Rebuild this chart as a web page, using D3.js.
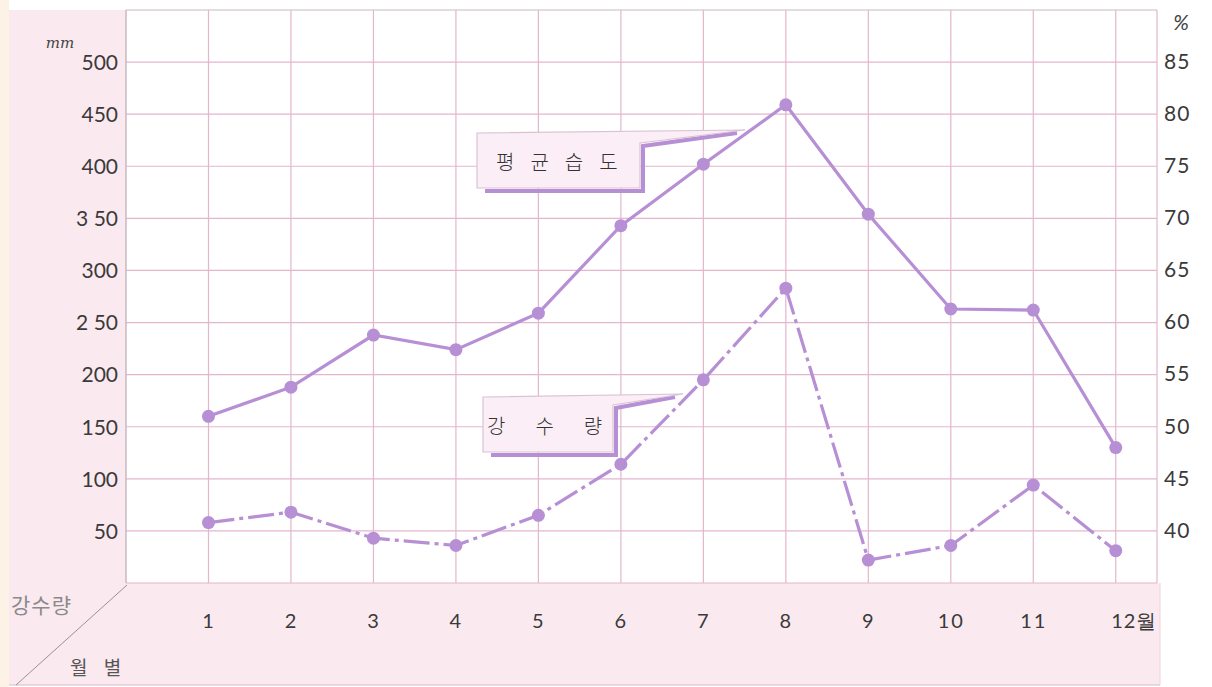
<!DOCTYPE html>
<html><head><meta charset="utf-8">
<script src="https://cdn.jsdelivr.net/npm/d3@7"></script>
<style>
html,body{margin:0;padding:0;background:#fff;}
svg{display:block;}
</style></head>
<body>
<svg id="c" width="1212" height="687"></svg>
<script>
const months = [1,2,3,4,5,6,7,8,9,10,11,12];
const monthLabels = ["1","2","3","4","5","6","7","8","9","10","11","12월"];
const humidity = [51.0,53.8,58.8,57.4,60.9,69.3,75.2,80.9,70.4,61.3,61.2,48.0];   // %
const rainfall = [58,68,43,36,65,114,195,283,22,36,94,31];                          // mm
const leftTicks = [50,100,150,200,250,300,350,400,450,500];
const leftTickLabels = ["50","100","150","200","2 50","300","3 50","400","450","500"];
const rightTicks = [40,45,50,55,60,65,70,75,80,85];
const humidityLabel = "평균습도";
const rainLabel = "강수량";

const svg = d3.select("#c");
const L = 126, R = 1157, T = 10, B = 583, BB = 685;
const x = d3.scaleLinear().domain([0,12.5]).range([L,R]);
const yL = d3.scaleLinear().domain([0,550]).range([B,T]);
const yR = d3.scaleLinear().domain([35,90]).range([B,T]);

const purple = "#b78fd4", grid = "#e3b6cc", pinkBg = "#fbe9f0";

// background panels
svg.append("rect").attr("x",0).attr("y",0).attr("width",9).attr("height",687).attr("fill","#fcf3e6");
svg.append("rect").attr("x",9).attr("y",T).attr("width",L-9).attr("height",B-T).attr("fill",pinkBg);
svg.append("rect").attr("x",9).attr("y",B).attr("width",R+3-9).attr("height",BB-B).attr("fill",pinkBg);
svg.append("rect").attr("x",L).attr("y",T).attr("width",R-L).attr("height",B-T).attr("fill","#ffffff");

// grid
const g = svg.append("g");
g.selectAll("line.h").data(leftTicks.concat([0])).join("line")
  .attr("x1",L).attr("x2",R).attr("y1",d=>yL(d)).attr("y2",d=>yL(d))
  .attr("stroke",grid).attr("stroke-width",1.2);
g.append("line").attr("x1",L).attr("x2",R).attr("y1",T).attr("y2",T).attr("stroke","#ddd0d8").attr("stroke-width",1.5);
g.selectAll("line.v").data(months.concat([12.5])).join("line")
  .attr("y1",T).attr("y2",B).attr("x1",d=>x(d)).attr("x2",d=>x(d))
  .attr("stroke",grid).attr("stroke-width",1.2);
g.append("line").attr("x1",L).attr("x2",L).attr("y1",T).attr("y2",B).attr("stroke","#c9b8c2").attr("stroke-width",1.5);
// bottom band borders
svg.append("line").attr("x1",9).attr("x2",R+3).attr("y1",BB).attr("y2",BB).attr("stroke","#e6cbd7").attr("stroke-width",1.5);
svg.append("line").attr("x1",R+3).attr("x2",R+3).attr("y1",B).attr("y2",BB).attr("stroke","#ecd3de").attr("stroke-width",1);
svg.append("line").attr("x1",L+1).attr("y1",B+2).attr("x2",16).attr("y2",BB).attr("stroke","#9a8f95").attr("stroke-width",1);

const font = "Lato, 'Noto Sans', sans-serif";
// left axis labels
const la = svg.append("g").attr("transform",`translate(${L-8},0)`)
  .call(d3.axisLeft(yL).tickValues(leftTicks).tickSize(0).tickPadding(0).tickFormat((d,i)=>leftTickLabels[i]));
la.select(".domain").remove();
la.selectAll("text").attr("font-size",21).attr("font-family",font).attr("fill","#3a3a3a").attr("dy","0.35em");
svg.append("text").attr("x",60).attr("y",48).attr("text-anchor","middle").attr("font-size",15)
  .attr("font-style","italic").attr("font-family","'DejaVu Serif', serif").attr("fill","#444").text("mm");

// right axis labels
const ra = svg.append("g").attr("transform",`translate(${R+7},0)`)
  .call(d3.axisRight(yR).tickValues(rightTicks).tickSize(0).tickPadding(0).tickFormat(d3.format("d")));
ra.select(".domain").remove();
ra.selectAll("text").attr("font-size",21).attr("font-family",font).attr("fill","#3a3a3a").attr("dy","0.3em").attr("letter-spacing","1px");
svg.append("text").attr("x",1181).attr("y",30).attr("text-anchor","middle").attr("font-size",21)
  .attr("font-style","italic").attr("font-family",font).attr("fill","#444").text("%");

// month labels
const ma = svg.append("g").attr("transform",`translate(0,${621})`)
  .call(d3.axisBottom(x).tickValues(months).tickSize(0).tickPadding(0).tickFormat((d,i)=>monthLabels[i]));
ma.select(".domain").remove();
ma.selectAll("text").attr("font-size",20).attr("font-family",font).attr("fill","#3a3a3a").attr("dy","0.35em").attr("y",0)
  .attr("letter-spacing","2px");
ma.selectAll("text").filter((d,i)=>i===11).attr("text-anchor","start").attr("dx","-5").attr("letter-spacing","1px");

svg.append("text").attr("x",11).attr("y",613).attr("font-size",21).attr("font-family","'Noto Sans CJK KR', sans-serif")
  .attr("fill","#8a8a8a").attr("letter-spacing","1px").text("강수량");
svg.append("text").attr("x",70).attr("y",675).attr("font-size",19).attr("font-family","'Noto Sans CJK KR', sans-serif")
  .attr("fill","#555").attr("letter-spacing","6px").text("월 별");

// lines
const hum = months.map((m,i)=>[m,humidity[i]]);
const rain = months.map((m,i)=>[m,rainfall[i]]);
const lh = d3.line().x(d=>x(d[0])).y(d=>yR(d[1]));
const lr = d3.line().x(d=>x(d[0])).y(d=>yL(d[1]));
svg.append("path").attr("d",lh(hum)).attr("fill","none").attr("stroke",purple).attr("stroke-width",3.2);
svg.append("path").attr("d",lr(rain)).attr("fill","none").attr("stroke",purple).attr("stroke-width",3.2)
  .attr("stroke-dasharray","26,5,4,5");
svg.selectAll("circle.h").data(hum).join("circle").attr("cx",d=>x(d[0])).attr("cy",d=>yR(d[1])).attr("r",6.5).attr("fill",purple);
svg.selectAll("circle.r").data(rain).join("circle").attr("cx",d=>x(d[0])).attr("cy",d=>yL(d[1])).attr("r",6.5).attr("fill",purple);

// callouts
function callout(x0,y0,xr,y1,tipx,tipy,neck,label,tx,ls){
  const sh = svg.append("g");
  sh.append("path").attr("d",`M${x0+8},${y1+3} L${xr+3},${y1+3} L${xr+3},${neck+3} L${tipx-8},${tipy+3}`)
    .attr("fill","none").attr("stroke",purple).attr("stroke-width",4);
  sh.append("path").attr("d",`M${x0},${y0} L${tipx},${tipy} L${xr},${neck} L${xr},${y1} L${x0},${y1} Z`)
    .attr("fill","#fbeef6").attr("stroke","#d9c3d3").attr("stroke-width",1.2);
  sh.append("text").attr("x",tx).attr("y",(y0+y1)/2+2).attr("dy","0.35em").attr("font-size",20)
    .attr("font-family","'Noto Sans CJK KR', sans-serif").attr("font-weight",300).attr("fill","#333")
    .attr("letter-spacing",ls+"px").text(label);
}
callout(477,133,640,188,745,130,143,humidityLabel,496,16);
callout(483,397,613,452,683,394,405,rainLabel,487,30);
</script>
</body></html>
